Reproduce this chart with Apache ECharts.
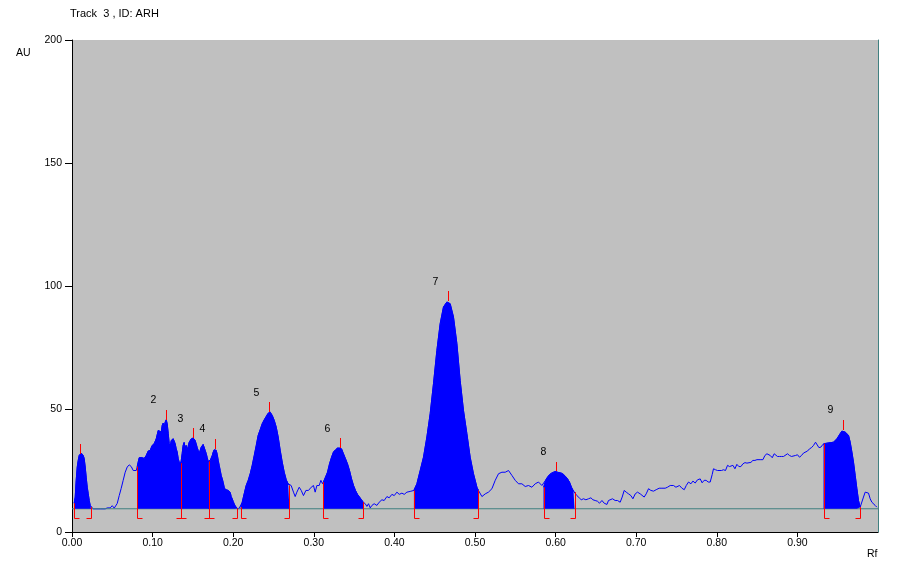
<!DOCTYPE html>
<html><head><meta charset="utf-8">
<script src="https://cdn.jsdelivr.net/npm/echarts@6/dist/echarts.min.js"></script>
<style>html,body{margin:0;padding:0;background:#fff}#c{width:907px;height:572px}</style>
</head><body><div id="c"></div>
<script>
// Densitogram samples: Rf positions and AU values
const rf = [
0.0027,0.0040,0.0052,0.0065,0.0077,0.0089,0.0102,0.0114,0.0127,0.0139,0.0151,0.0164,0.0176,0.0189,0.0201,0.0214,0.0226,0.0238,
0.0263,0.0350,0.0412,0.0437,0.0474,0.0499,0.0524,0.0548,0.0561,0.0586,0.0610,0.0635,0.0660,0.0685,0.0710,0.0735,0.0760,0.0784,0.0797,0.0809,
0.0821,0.0834,0.0846,0.0859,0.0871,0.0896,0.0921,0.0945,0.0970,0.0995,0.1020,0.1045,0.1070,0.1082,0.1094,0.1107,0.1119,0.1132,0.1144,0.1156,0.1169,0.1181,0.1194,0.1206,0.1218,0.1231,0.1243,0.1256,0.1268,0.1280,0.1293,0.1305,0.1318,0.1330,0.1342,
0.1354,0.1367,0.1379,0.1391,0.1404,0.1416,0.1429,0.1441,0.1453,0.1466,0.1478,0.1491,0.1503,0.1516,0.1528,0.1540,0.1553,0.1565,0.1578,0.1590,0.1602,0.1615,0.1627,0.1640,0.1652,0.1665,0.1677,0.1689,
0.1702,0.1715,0.1727,0.1740,0.1752,0.1764,0.1777,0.1789,0.1802,0.1814,0.1826,0.1839,0.1851,0.1864,0.1876,0.1888,0.1901,0.1913,0.1938,0.1950,0.1963,0.1975,0.1988,0.2000,0.2012,0.2025,0.2037,0.2049,0.2062,0.2074,
0.2093,0.2112,0.2136,0.2161,0.2186,0.2211,0.2236,0.2261,0.2286,0.2310,0.2335,0.2360,0.2385,0.2410,0.2434,0.2459,0.2484,0.2509,0.2534,0.2558,0.2583,0.2608,0.2633,0.2658,0.2682,0.2698,
0.2719,0.2748,0.2769,0.2790,0.2819,0.2844,0.2872,0.2902,0.2934,0.2968,0.2996,0.3017,0.3038,0.3067,0.3088,0.3108,
0.3120,0.3145,0.3170,0.3195,0.3220,0.3244,0.3269,0.3294,0.3319,0.3344,0.3368,0.3393,0.3418,0.3443,0.3468,0.3493,0.3517,0.3542,0.3567,0.3592,0.3613,
0.3638,0.3659,0.3679,0.3700,0.3721,0.3749,0.3783,0.3811,0.3845,0.3873,0.3907,0.3935,0.3969,0.3998,0.4031,0.4060,0.4093,0.4122,0.4155,0.4196,
0.4242,0.4279,0.4320,0.4361,0.4403,0.4444,0.4485,0.4527,0.4568,0.4609,0.4651,0.4671,0.4692,0.4733,0.4775,0.4816,0.4857,0.4899,0.4940,0.4981,0.5024,0.5043,
0.5086,0.5127,0.5167,0.5210,0.5251,0.5292,0.5334,0.5375,0.5416,0.5458,0.5499,0.5540,0.5582,0.5623,0.5664,0.5706,0.5747,0.5788,0.5830,
0.5850,0.5875,0.5900,0.5924,0.5949,0.5974,0.5999,0.6024,0.6048,0.6073,0.6098,0.6123,0.6148,0.6172,0.6197,0.6222,0.6235,
0.6264,0.6293,0.6318,0.6346,0.6376,0.6408,0.6438,0.6463,0.6491,0.6520,0.6545,0.6575,0.6603,0.6637,0.6656,0.6677,0.6706,0.6739,0.6768,0.6801,0.6826,0.6851,0.6876,0.6905,0.6934,0.6959,0.6988,0.7016,0.7050,0.7074,0.7099,0.7124,0.7153,0.7182,0.7215,0.7248,0.7285,0.7319,0.7360,0.7388,0.7422,0.7463,0.7493,0.7512,0.7537,0.7567,0.7596,0.7621,0.7649,0.7679,0.7704,0.7732,0.7760,0.7794,
0.7818,0.7843,0.7868,0.7893,0.7918,0.7943,0.7959,0.7984,0.8009,0.8033,0.8058,0.8083,0.8108,0.8133,0.8158,0.8182,0.8200,0.8225,0.8249,0.8274,0.8299,0.8324,0.8349,0.8374,0.8398,0.8423,0.8448,0.8473,0.8498,0.8547,0.8572,0.8597,0.8622,0.8646,0.8663,0.8688,0.8712,0.8728,0.8753,0.8778,0.8803,0.8828,0.8852,0.8877,0.8902,0.8927,0.8951,0.8976,0.9001,0.9026,0.9051,0.9076,0.9100,0.9125,0.9150,0.9175,0.9200,0.9225,0.9242,0.9267,0.9292,0.9316,
0.9324,0.9366,0.9407,0.9448,0.9469,0.9490,0.9510,0.9531,0.9552,0.9572,0.9593,0.9614,0.9634,0.9655,0.9676,0.9696,0.9717,0.9738,0.9758,0.9779,
0.9800,0.9820,0.9841,0.9862,0.9882,0.9903,0.9924,0.9944,0.9965,0.9986
];
const au = [
11.7,14.2,21.0,26.4,29.1,31.1,31.8,32.1,31.8,31.1,29.9,26.4,22.3,18.2,15.7,12.8,10.8,10.1,
9.4,9.4,9.4,9.8,9.8,10.7,9.7,9.7,11.6,14.8,17.7,21.0,24.3,26.4,27.3,26.6,25.0,25.8,25.0,26.6,
28.4,30.2,29.9,30.3,29.5,29.9,31.1,32.9,33.2,35.2,35.9,37.9,41.3,42.0,41.6,40.6,43.3,44.3,42.6,44.7,45.6,44.0,40.0,35.9,34.5,37.2,37.9,37.9,37.2,35.9,33.8,32.5,29.8,28.4,27.1,
28.7,31.9,35.2,36.4,34.0,35.2,33.2,34.8,36.4,37.2,37.8,38.2,38.2,37.9,37.2,36.4,34.4,33.2,31.9,32.3,34.4,35.2,35.6,34.8,33.2,31.9,30.3,28.7,
28.4,29.1,29.9,31.1,32.5,33.4,33.8,33.2,31.5,29.1,27.1,25.0,23.0,21.6,20.1,18.2,17.3,16.9,16.9,16.7,16.1,14.4,13.5,12.4,11.5,10.6,10.1,9.6,9.4,9.6,
10.1,12.1,15.5,18.9,21.0,23.7,27.1,31.1,35.2,39.3,41.6,44.0,45.6,47.0,48.3,48.7,47.4,45.4,42.6,38.6,33.2,28.4,24.3,21.2,19.6,18.9,
18.9,16.2,14.4,16.2,18.2,16.9,14.8,16.9,16.9,18.2,18.9,16.2,18.9,18.9,21.0,19.6,
20.3,22.3,24.3,27.7,30.4,32.5,33.4,34.1,34.1,33.8,31.8,29.8,27.7,25.0,21.6,18.9,16.9,15.3,14.2,13.1,12.1,
11.5,10.4,11.5,9.8,10.8,11.5,10.8,12.1,13.1,12.8,14.4,13.9,15.3,14.8,16.2,15.3,15.8,15.3,16.2,16.5,
16.9,19.6,25.0,30.4,38.6,48.1,60.3,73.8,84.7,91.5,93.5,93.8,92.8,87.4,76.6,61.6,49.4,40.0,30.4,23.7,18.2,16.9,
14.4,15.5,16.2,17.6,21.0,23.7,24.3,24.3,25.0,23.0,21.0,19.6,19.6,18.5,18.9,18.2,19.6,20.3,18.9,
18.2,21.0,22.3,23.3,23.9,24.3,24.6,24.3,24.1,23.9,23.4,22.6,21.6,20.3,18.2,16.6,16.2,
14.8,13.9,13.1,13.5,13.1,13.5,13.9,13.1,12.8,12.5,11.7,12.8,11.7,11.2,12.8,13.5,13.5,12.8,12.8,12.1,14.2,16.9,16.2,15.5,14.8,13.5,15.5,16.2,15.5,16.2,14.2,15.5,17.6,16.9,16.6,17.2,17.8,17.8,17.8,18.2,18.9,18.9,18.2,18.9,18.9,17.8,17.2,18.9,20.3,19.6,20.7,19.9,21.2,21.6,
20.0,21.0,21.0,20.3,20.3,23.4,25.7,25.3,25.0,24.6,25.0,25.3,25.0,27.1,26.6,26.1,27.1,25.7,27.5,26.6,26.6,27.7,28.2,28.0,28.4,28.3,29.1,29.1,29.4,29.4,29.4,31.1,31.8,32.1,31.1,30.2,31.8,32.5,30.7,30.7,30.7,30.7,30.7,31.8,31.1,30.7,31.4,31.1,31.4,30.4,31.1,32.1,32.5,32.9,33.8,34.3,35.2,36.5,35.9,34.3,34.5,35.6,
35.9,36.1,36.3,36.5,37.2,37.9,38.9,40.0,41.0,41.6,40.6,40.2,39.3,36.5,32.5,28.4,23.0,17.6,12.8,10.1,
10.8,14.2,16.2,16.9,15.8,13.5,12.1,11.5,10.8,10.1
];
// Integration windows and peak maxima
const peakStart = [0.0027,0.0809,0.1352,0.1696,0.2093,0.3120,0.4242,0.5850,0.9324];
const peakEnd   = [0.0238,0.1352,0.1696,0.2053,0.2698,0.3613,0.5043,0.6235,0.9779];
const startHeight = [11.7,26.6,27.9,28.6,10.1,20.3,16.9,18.2,35.9];
const endHeight   = [10.1,27.9,28.6,9.6,18.9,12.1,16.9,16.2,10.1];
const peakMaxRf = [0.0105,0.1169,0.1503,0.1780,0.2450,0.3331,0.4671,0.6011,0.9560];
const peakMaxHeight = [31.8,45.6,38.2,33.8,48.7,34.1,93.8,24.6,41.6];
const peakLabels = ['','2','3','4','5','6','7','8','9'];
const baselineAU = 9.44;
const footAU = 5.5;
const markAU = 4;

const FONT = 'Liberation Sans, Arial, sans-serif';
const curve = rf.map((r,i)=>[r, au[i]]);

function fillData(s, e){
  let i0 = 0, i1 = rf.length-1;
  for (let i=0;i<rf.length;i++){ if (rf[i] <= s + 1e-9) i0 = i; }
  for (let i=rf.length-1;i>=0;i--){ if (rf[i] >= e - 1e-9) i1 = i; }
  return curve.slice(i0, i1+1);
}

const markData = [];
for (let i=0;i<peakStart.length;i++){
  markData.push([peakStart[i], startHeight[i], 0, i]);
  markData.push([peakEnd[i], endHeight[i], 1, i]);
  markData.push([peakMaxRf[i], peakMaxHeight[i], 2, i]);
}

function renderMark(params, api){
  const x = api.value(0), h = api.value(1), kind = api.value(2), idx = api.value(3);
  const top = api.coord([x, h]);
  const px = Math.round(top[0]) + 0.5;
  const red = {stroke:'#ff0000', fill:null, lineWidth:1};
  if (kind === 0 || kind === 1){
    const bot = api.coord([x, footAU]);
    const by = Math.round(bot[1]) + 0.5;
    const dir = kind === 0 ? 1 : -1;
    return {type:'group', children:[
      {type:'line', shape:{x1:px, y1:top[1], x2:px, y2:by}, style:red},
      {type:'line', shape:{x1:px, y1:by, x2:px + dir*5, y2:by}, style:red}
    ]};
  }
  const t2 = api.coord([x, h + markAU]);
  const children = [{type:'line', shape:{x1:px, y1:Math.round(top[1]), x2:px, y2:Math.round(t2[1])}, style:red}];
  const lab = peakLabels[idx];
  if (lab){
    children.push({type:'text', x: px - 13, y: t2[1] - 9.5,
      style:{text: lab, fill:'#000', font:'10.5px ' + FONT, align:'center', verticalAlign:'middle'}});
  }
  return {type:'group', children};
}

const series = [
  {type:'line', data: curve, showSymbol:false, symbol:'none', lineStyle:{color:'#0000ff', width:1}, itemStyle:{color:'#0000ff'}, z:2, silent:true},
  {type:'line', data: [[0, baselineAU],[1, baselineAU]], showSymbol:false, symbol:'none', lineStyle:{color:'#408080', width:1}, itemStyle:{color:'#408080'}, z:3, silent:true}
];
for (let i=0;i<peakStart.length;i++){
  series.push({type:'line', data: fillData(peakStart[i], peakEnd[i]), showSymbol:false, symbol:'none',
    lineStyle:{color:'#0000ff', width:1}, itemStyle:{color:'#0000ff'},
    areaStyle:{color:'#0000ff', opacity:1, origin: baselineAU}, z:4, silent:true});
}
series.push({type:'custom', data: markData, renderItem: renderMark, itemStyle:{color:'#ff0000'}, z:6, silent:true, clip:false});

const chart = echarts.init(document.getElementById('c'), null, {renderer:'canvas'});
chart.setOption({
  animation:false,
  backgroundColor:'#ffffff',
  color:['#0000ff','#ff0000'],
  grid:{left:72, right:29, top:40, bottom:40, show:true, backgroundColor:'#c0c0c0', borderWidth:0},
  xAxis:{type:'value', min:0, max:1, interval:0.1,
    axisLine:{show:true, lineStyle:{color:'#000', width:1}},
    axisTick:{show:true, length:5, lineStyle:{color:'#000'}},
    axisLabel:{formatter:v=>v.toFixed(2), showMaxLabel:false, margin:6, fontSize:10.5, color:'#000', fontFamily:FONT},
    splitLine:{show:false}},
  yAxis:[
    {type:'value', min:0, max:200, interval:50,
      axisLine:{show:true, lineStyle:{color:'#000', width:1}},
      axisTick:{show:true, length:7, lineStyle:{color:'#000'}},
      axisLabel:{margin:10, fontSize:10.5, color:'#000', fontFamily:FONT},
      splitLine:{show:false}},
    {type:'value', min:0, max:200, position:'right',
      axisLine:{show:true, lineStyle:{color:'#408080', width:1}},
      axisTick:{show:false}, axisLabel:{show:false}, splitLine:{show:false}}
  ],
  graphic:[
    {type:'text', left:70, top:8, style:{text:'Track  3 , ID: ARH', fill:'#000', font:'11px ' + FONT}},
    {type:'text', left:16, top:48, style:{text:'AU', fill:'#000', font:'10.5px ' + FONT}},
    {type:'text', left:867, top:549, style:{text:'Rf', fill:'#000', font:'10.5px ' + FONT}}
  ],
  series
});
</script>
</body></html>
